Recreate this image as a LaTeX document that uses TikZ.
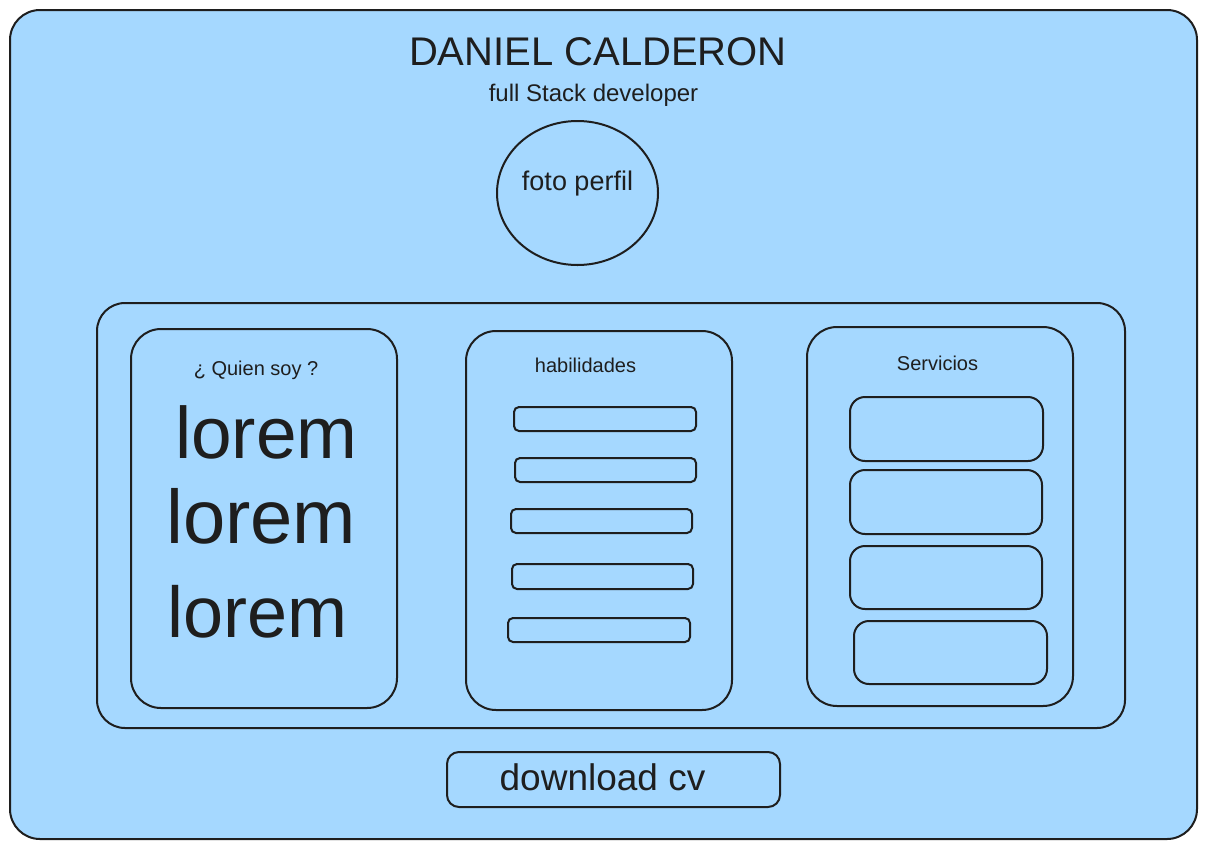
\documentclass[tikz,border=0pt]{standalone}
\usepackage{fontspec}
\setmainfont{Liberation Sans}
\usetikzlibrary{shapes.geometric}
\definecolor{fillblue}{HTML}{A5D8FF}
\definecolor{ink}{HTML}{1E1E1E}
\newcommand{\fs}[1]{\fontsize{#1}{#1}\selectfont}
\tikzset{
  card/.style={draw=ink, line width=2pt, rounded corners=#1, fill=fillblue, inner sep=0pt, outer sep=0pt, anchor=north west},
  card/.default=28pt,
  lbl/.style={text=ink, inner sep=0pt, anchor=base},
}
\begin{document}
\begin{tikzpicture}[x=1pt,y=-1pt]
\useasboundingbox (0,0) rectangle (1207,849);
% outer frame
\node[card=30pt, minimum width=1187pt, minimum height=829pt] (outer) at (10,10) {};
\node[lbl, font=\fs{40}] (title) at (598,65) {DANIEL CALDERON};
\node[lbl, font=\fs{24}] (sub) at (593.5,101) {full Stack developer};
% photo
\node[draw=ink, line width=2pt, ellipse, minimum width=161pt, minimum height=144pt, inner sep=0pt, outer sep=0pt] (photo) at (577.5,193) {};
\node[lbl, font=\fs{27}] (photolbl) at (577.5,190) {foto perfil};
% container
\node[card=28pt, minimum width=1028pt, minimum height=425pt] (cont) at (97,303) {};
% left card
\node[card=30pt, minimum width=266pt, minimum height=379pt] (who) at (131,329) {};
\node[lbl, font=\fs{20}] (wholbl) at (256,375) {¿ Quien soy ?};
\node[lbl, anchor=base west, font=\fs{73}] (l1) at (175,458) {lorem};
\node[lbl, anchor=base west, font=\fs{76}] (l2) at (166,543) {lorem};
\node[lbl, anchor=base west, font=\fs{72}] (l3) at (167,637) {lorem};
% middle card
\node[card=30pt, minimum width=266pt, minimum height=379pt] (skills) at (466,331) {};
\node[lbl, font=\fs{20}] (skillslbl) at (585.5,372) {habilidades};
\node[card=5pt, minimum width=182pt, minimum height=24pt] (b1) at (514,407) {};
\node[card=5pt, minimum width=181pt, minimum height=24pt] (b2) at (515,458) {};
\node[card=5pt, minimum width=181pt, minimum height=24pt] (b3) at (511,509) {};
\node[card=5pt, minimum width=181pt, minimum height=25pt] (b4) at (512,564) {};
\node[card=5pt, minimum width=182pt, minimum height=24pt] (b5) at (508,618) {};
% right card
\node[card=30pt, minimum width=266pt, minimum height=379pt] (serv) at (807,327) {};
\node[lbl, font=\fs{20}] (servlbl) at (937.5,370) {Servicios};
\node[card=15pt, minimum width=193pt, minimum height=64pt] (s1) at (850,397) {};
\node[card=15pt, minimum width=192pt, minimum height=64pt] (s2) at (850,470) {};
\node[card=15pt, minimum width=192pt, minimum height=63pt] (s3) at (850,546) {};
\node[card=15pt, minimum width=193pt, minimum height=63pt] (s4) at (854,621) {};
% download
\node[card=12pt, minimum width=333pt, minimum height=55pt] (dl) at (447,752) {};
\node[lbl, font=\fs{37}] (dllbl) at (602.5,790) {download cv};
\end{tikzpicture}
\end{document}
